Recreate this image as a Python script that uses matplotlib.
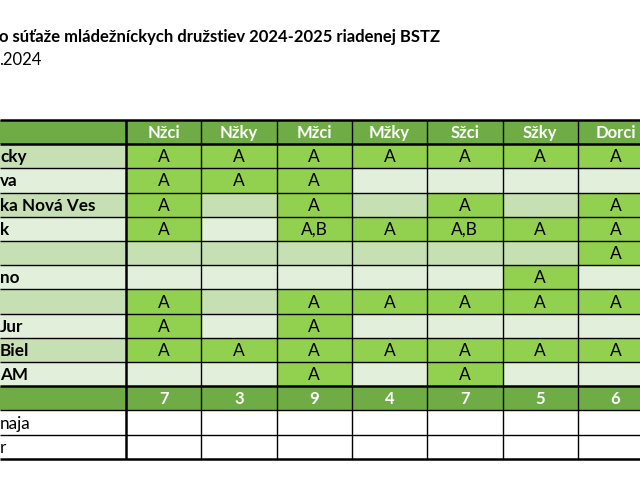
import matplotlib.pyplot as plt
from matplotlib.patches import Rectangle

plt.rcParams['font.family'] = ['Lato', 'DejaVu Sans']

title = "o súťaže mládežníckych družstiev 2024-2025 riadenej BSTZ"
subtitle = ".2024"

categories = ['Nžci', 'Nžky', 'Mžci', 'Mžky', 'Sžci', 'Sžky', 'Dorci']
teams = ['cky', 'va', 'ka Nová Ves', 'k', '', 'no', '', 'Jur', 'Biel', 'AM']
entries = [
    ['A', 'A', 'A', 'A', 'A', 'A', 'A'],
    ['A', 'A', 'A', '', '', '', ''],
    ['A', '', 'A', '', 'A', '', 'A'],
    ['A', '', 'A,B', 'A', 'A,B', 'A', 'A'],
    ['', '', '', '', '', '', 'A'],
    ['', '', '', '', '', 'A', ''],
    ['A', '', 'A', 'A', 'A', 'A', 'A'],
    ['A', '', 'A', '', '', '', ''],
    ['A', 'A', 'A', 'A', 'A', 'A', 'A'],
    ['', '', 'A', '', 'A', '', ''],
]
totals = [7, 3, 9, 4, 7, 5, 6]
extra_rows = ['naja', 'r']

# colours
dark = '#6FAC46'
green = '#92D050'
band_a = '#C6E0B4'
band_b = '#E2EFDA'

fig = plt.figure(figsize=(6.4, 4.8), dpi=100)
ax = fig.add_axes([0, 0, 1, 1])
ax.set_xlim(0, 640)
ax.set_ylim(480, 0)
ax.axis('off')

first_w = 126
col_w = 75.3
top = 120
rh = 24.2
xs = [first_w + i * col_w for i in range(len(categories) + 1)]
right = xs[-1]

ax.text(-1, 37, title, fontsize=12, fontweight='bold', va='center', ha='left')
ax.text(-1, 60, subtitle, fontsize=12, va='center', ha='left')

def cell(x0, x1, y0, color):
    ax.add_patch(Rectangle((x0, y0), x1 - x0, rh, facecolor=color, edgecolor='none'))

# header
cell(0, right, top, dark)
for j, c in enumerate(categories):
    ax.text((xs[j] + xs[j + 1]) / 2, top + rh / 2 + 1, c, color='white', fontsize=12,
            fontweight='bold', ha='center', va='center')

# team rows
for i, (name, row) in enumerate(zip(teams, entries)):
    y0 = top + rh * (i + 1)
    band = band_a if i % 2 == 0 else band_b
    cell(0, first_w, y0, band)
    ax.text(0, y0 + rh / 2 + 1, name, fontsize=12.3, fontweight='bold', ha='left', va='center')
    for j, v in enumerate(row):
        cell(xs[j], xs[j + 1], y0, green if v else band)
        if v:
            ax.text((xs[j] + xs[j + 1]) / 2, y0 + rh / 2 + 1, v, fontsize=12.5,
                    ha='center', va='center')

# totals row
yt = top + rh * (len(teams) + 1)
cell(0, right, yt, dark)
for j, t in enumerate(totals):
    ax.text((xs[j] + xs[j + 1]) / 2, yt + rh / 2 + 1, str(t), color='white', fontsize=12,
            fontweight='bold', ha='center', va='center')

# extra white rows
for k, name in enumerate(extra_rows):
    y0 = yt + rh * (k + 1)
    ax.text(0, y0 + rh / 2 + 1, name, fontsize=12.3, ha='left', va='center')

bottom = yt + rh * (len(extra_rows) + 1)

# grid lines
nrows = len(teams) + 2 + len(extra_rows)
for r in range(nrows + 1):
    y = top + r * rh
    lw = 1.0
    if r in (0, 1, len(teams) + 1, nrows):
        lw = 1.8
    ax.plot([0, right], [y, y], color='black', lw=lw, solid_capstyle='butt')
for j, x in enumerate(xs):
    lw = 1.8 if j == 0 else 1.0
    ax.plot([x, x], [top, bottom], color='black', lw=lw, solid_capstyle='butt')

fig.savefig('out.png', dpi=100)
